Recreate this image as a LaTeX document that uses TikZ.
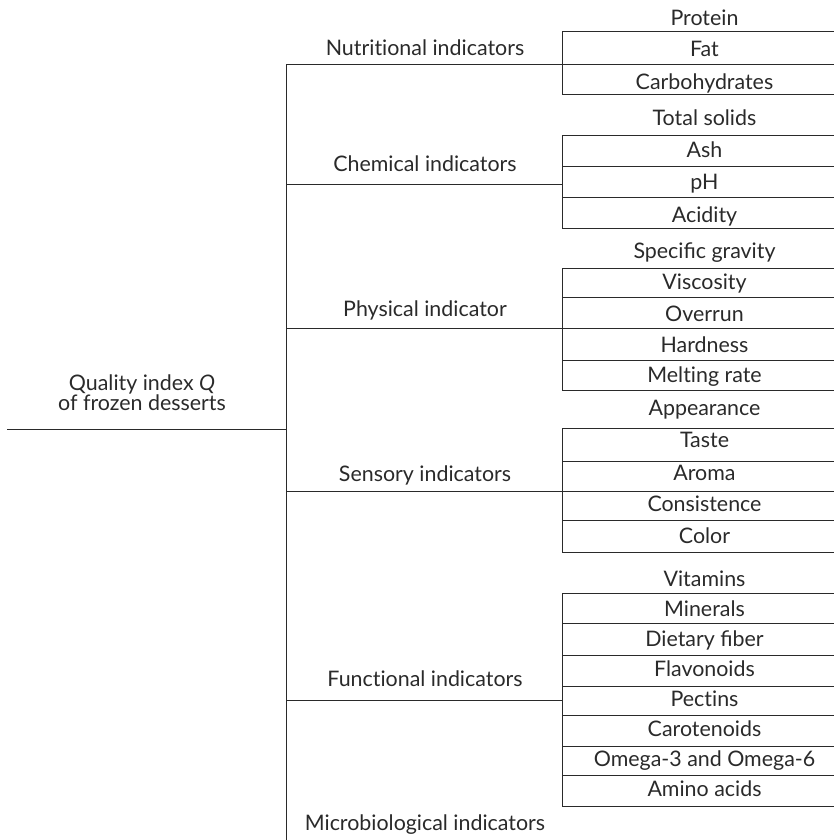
\documentclass[tikz,border=0pt]{standalone}
\usepackage{fontspec}
\setmainfont{Lato}
\definecolor{ink}{HTML}{2A2A2A}
\newcommand{\nolig}{\kern0pt }
\begin{document}
\begin{tikzpicture}[x=1pt,y=-1pt,line width=1pt,
  lbl/.style={font=\fontsize{21.4}{25}\selectfont,text=ink,inner sep=0pt,anchor=base},
  conn/.style={draw=ink,line width=1pt}]
\useasboundingbox (0,0) rectangle (834,840);
\clip (0,0) rectangle (834,840);
% root
\node[lbl] (root) at (142,390.7) {Quality index \textit{Q}};
\node[lbl] (root2) at (142,410.7) {of frozen desserts};
\coordinate (r0) at (7,429);
\coordinate (r1) at (286,429);
\draw[conn] (r0) -- (r1);
\coordinate (vtop) at (286,65);
\coordinate (vbot) at (286,850);
\draw[conn] (vtop) -- (vbot);
% branch labels
\node[lbl] (nut) at (425,56) {Nutrit\nolig ional indicators};
\node[lbl] (che) at (425,171.7) {Chemical indicators};
\node[lbl] (phy) at (425,316.7) {Physical indicator};
\node[lbl] (sen) at (425,481.7) {Sensory indicators};
\node[lbl] (fun) at (425,686) {Funct\nolig ional indicators};
\node[lbl] (mic) at (425,830) {Microbiological indicators};
% branch lines
\foreach \y/\n in {65/bn,184/bc,328.3/bp,491.7/bs,700.3/bf}{
  \coordinate (\n a) at (286,\y);
  \coordinate (\n b) at (562,\y);
  \draw[conn] (\n a) -- (\n b);
}
% box frames: left verticals
\foreach \t/\b/\n in {31.7/95/kn,135/228.3/kc,268.3/390/kp,428.3/552.7/ks,593.5/806.7/kf}{
  \coordinate (\n t) at (562,\t);
  \coordinate (\n b) at (562,\b);
  \draw[conn] (\n t) -- (\n b);
}
% box horizontal lines
\foreach \y [count=\i] in {31.7,65,95,135,166.7,197.7,228.3,268.3,297.7,328.3,360,390,428.3,461.3,491.7,520.7,552.7,593.5,623.3,655,686,715,746,775,806.7}{
  \coordinate (h\i a) at (562,\y);
  \coordinate (h\i b) at (850,\y);
  \draw[conn] (h\i a) -- (h\i b);
}
% items
\node[lbl] (i1) at (704.5,25.3) {Protein};
\node[lbl] (i2) at (704.5,56.7) {Fat};
\node[lbl] (i3) at (704.5,89.3) {Carbohydrates};
\node[lbl] (i4) at (704.5,125.3) {Total solids};
\node[lbl] (i5) at (704.5,157.3) {Ash};
\node[lbl] (i6) at (704.5,189.3) {pH};
\node[lbl] (i7) at (704.5,222.7) {Acidity};
\node[lbl] (i8) at (704.5,258.3) {Specific gravity};
\node[lbl] (i9) at (704.5,289.3) {Viscosity};
\node[lbl] (i10) at (704.5,321) {Overrun};
\node[lbl] (i11) at (704.5,352.3) {Hardness};
\node[lbl] (i12) at (704.5,382.3) {Melt\nolig ing rate};
\node[lbl] (i13) at (704.5,415) {Appearance};
\node[lbl] (i14) at (704.5,447.3) {Taste};
\node[lbl] (i15) at (704.5,480) {Aroma};
\node[lbl] (i16) at (704.5,511.7) {Consistence};
\node[lbl] (i17) at (704.5,543.3) {Color};
\node[lbl] (i18) at (704.5,586.7) {Vitamins};
\node[lbl] (i19) at (704.5,616.7) {Minerals};
\node[lbl] (i20) at (704.5,646.7) {Dietary fiber};
\node[lbl] (i21) at (704.5,676.7) {Flavonoids};
\node[lbl] (i22) at (704.5,706) {Pect\nolig ins};
\node[lbl] (i23) at (704.5,736.7) {Carotenoids};
\node[lbl] (i24) at (704.5,766.7) {Omega-3 and Omega-6};
\node[lbl] (i25) at (704.5,796.7) {Amino acids};
\end{tikzpicture}
\end{document}
